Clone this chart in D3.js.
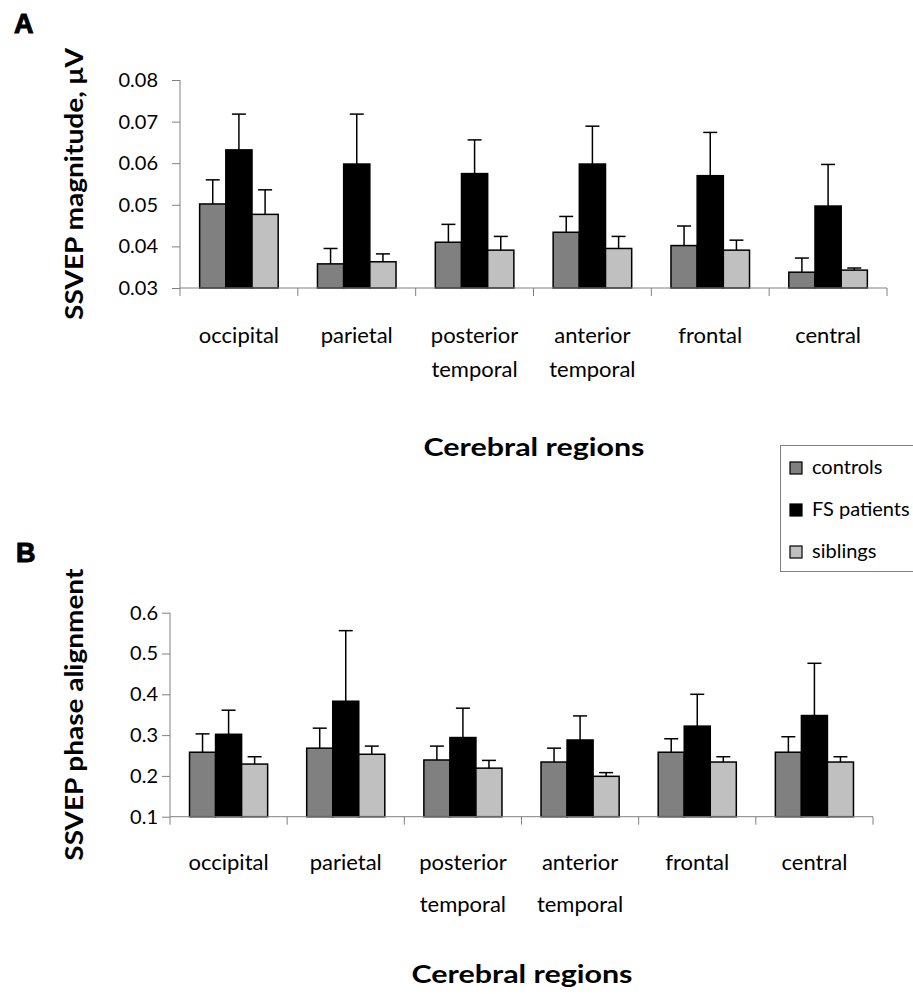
<!DOCTYPE html>
<html lang="en">
<head>
<meta charset="utf-8" />
<title>SSVEP magnitude and phase alignment by cerebral region</title>
<script src="https://d3js.org/d3.v7.min.js"></script>
<style>
  body { margin: 0; background: #fff; }
  svg text { font-family: "Gill Sans", "Gill Sans MT", Lato, sans-serif; fill: #000; }
</style>
</head>
<body>
<svg id="chart" width="913" height="994"></svg>
<script>
// categories and series
var regions = ["occipital", "parietal", "posterior temporal", "anterior temporal", "frontal", "central"];
var groups = ["controls", "FS patients", "siblings"];
var groupColors = ["#808080", "#000000", "#c0c0c0"];

// panel A: SSVEP magnitude (mean, upper error)
var magControls = [0.0502, 0.0358, 0.0410, 0.0434, 0.0402, 0.0338];
var magPatients = [0.0632, 0.0598, 0.0575, 0.0598, 0.0570, 0.0497];
var magSiblings = [0.0477, 0.0363, 0.0391, 0.0395, 0.0391, 0.0343];
var magControlsErr = [0.0058, 0.0037, 0.0043, 0.0038, 0.0047, 0.0034];
var magPatientsErr = [0.0086, 0.0120, 0.0081, 0.0091, 0.0104, 0.0100];
var magSiblingsErr = [0.0059, 0.0019, 0.0033, 0.0029, 0.0024, 0.0005];
var magTicks = [0.03, 0.04, 0.05, 0.06, 0.07, 0.08];

// panel B: SSVEP phase alignment
var phaseControls = [0.258, 0.268, 0.239, 0.234, 0.258, 0.258];
var phasePatients = [0.302, 0.383, 0.294, 0.288, 0.322, 0.348];
var phaseSiblings = [0.229, 0.253, 0.219, 0.199, 0.234, 0.234];
var phaseControlsErr = [0.045, 0.049, 0.034, 0.034, 0.033, 0.038];
var phasePatientsErr = [0.059, 0.173, 0.072, 0.059, 0.078, 0.128];
var phaseSiblingsErr = [0.018, 0.020, 0.019, 0.009, 0.013, 0.013];
var phaseTicks = [0.1, 0.2, 0.3, 0.4, 0.5, 0.6];

var svg = d3.select("#chart");

function drawPanel(opt) {
  var g = svg.append("g");

  var x0 = d3.scaleBand().domain(regions).range([opt.left, opt.right]);
  var x1 = d3.scaleBand().domain(groups).range([0, x0.bandwidth()])
    .paddingInner(0).paddingOuter(0.75);
  var y = d3.scaleLinear().domain(opt.domain).range([opt.bottom, opt.top]);

  // bars
  var rows = [];
  regions.forEach(function(r, i) {
    groups.forEach(function(s, j) {
      rows.push({ region: r, group: s, color: groupColors[j],
        value: opt.values[j][i], err: opt.errs[j][i] });
    });
  });

  g.selectAll("rect.bar")
    .data(rows)
    .enter().append("rect")
      .attr("class", "bar")
      .attr("x", function(d) { return x0(d.region) + x1(d.group); })
      .attr("y", function(d) { return y(d.value); })
      .attr("width", x1.bandwidth())
      .attr("height", function(d) { return y(opt.domain[0]) - y(d.value); })
      .attr("fill", function(d) { return d.color; })
      .attr("stroke", "#000")
      .attr("stroke-width", 1.5);

  // error bars (upper only)
  var cx = function(d) { return x0(d.region) + x1(d.group) + x1.bandwidth() / 2; };
  var eb = g.selectAll("g.err").data(rows).enter().append("g").attr("class", "err")
    .attr("stroke", "#000").attr("stroke-width", 1.5);
  eb.append("line")
    .attr("x1", cx).attr("x2", cx)
    .attr("y1", function(d) { return y(d.value); })
    .attr("y2", function(d) { return y(d.value + d.err); });
  eb.append("line")
    .attr("x1", function(d) { return cx(d) - 7; })
    .attr("x2", function(d) { return cx(d) + 7; })
    .attr("y1", function(d) { return y(d.value + d.err); })
    .attr("y2", function(d) { return y(d.value + d.err); });

  // y axis
  var yAxis = g.append("g")
    .attr("transform", "translate(" + opt.left + ",0)")
    .call(d3.axisLeft(y).tickValues(opt.ticks).tickSize(8).tickPadding(opt.tickPad)
      .tickFormat(d3.format(opt.fmt)));
  yAxis.select(".domain").attr("stroke", "#808080").attr("d", "M0," + opt.top + "V" + opt.bottom);
  yAxis.selectAll(".tick line").attr("stroke", "#808080");
  yAxis.selectAll(".tick text").attr("font-size", 20).attr("fill", "#000")
    .style("font-family", "\"Gill Sans\", Lato, sans-serif");

  // x axis with ticks at category boundaries
  g.append("line")
    .attr("x1", opt.left).attr("x2", opt.right)
    .attr("y1", opt.bottom).attr("y2", opt.bottom)
    .attr("stroke", "#808080");
  var bounds = regions.map(function(r) { return x0(r); }).concat([opt.right]);
  g.selectAll("line.xt").data(bounds).enter().append("line")
    .attr("class", "xt")
    .attr("x1", function(d) { return d; }).attr("x2", function(d) { return d; })
    .attr("y1", opt.bottom).attr("y2", opt.bottom + 8)
    .attr("stroke", "#808080");

  // category labels (two lines where needed)
  regions.forEach(function(r) {
    var words = r.split(" ");
    var t = g.append("text")
      .attr("x", x0(r) + x0.bandwidth() / 2)
      .attr("y", opt.bottom + opt.labelGap)
      .attr("text-anchor", "middle")
      .attr("font-size", 22);
    words.forEach(function(w, k) {
      t.append("tspan").attr("x", x0(r) + x0.bandwidth() / 2)
        .attr("dy", k === 0 ? 0 : opt.lineGap).text(w);
    });
  });

  // axis titles
  g.append("text")
    .attr("x", (opt.left + opt.right) / 2 - 110)
    .attr("y", opt.titleY)
    .attr("font-size", 24).attr("font-weight", "bold")
    .attr("textLength", 221).attr("lengthAdjust", "spacingAndGlyphs")
    .text("Cerebral regions");

  var yMid = (opt.top + opt.bottom) / 2;
  g.append("text")
    .attr("transform", "translate(83," + (yMid + opt.yTitleLen / 2) + ") rotate(-90)")
    .attr("font-size", 25).attr("font-weight", "bold")
    .attr("textLength", opt.yTitleLen).attr("lengthAdjust", "spacingAndGlyphs")
    .text(opt.yTitle);

  // panel letter
  g.append("text")
    .attr("x", opt.letterX).attr("y", opt.letterY)
    .style("font-family", "\"Liberation Sans\", Arial, sans-serif")
    .attr("font-size", 27).attr("font-weight", "bold")
    .attr("stroke", "#000").attr("stroke-width", 1)
    .text(opt.letter);
}

drawPanel({
  letter: "A", letterX: 14, letterY: 33,
  left: 180, right: 887, top: 80, bottom: 288,
  domain: [0.03, 0.08], ticks: magTicks, fmt: ".2f", tickPad: 14,
  values: [magControls, magPatients, magSiblings],
  errs: [magControlsErr, magPatientsErr, magSiblingsErr],
  labelGap: 55, lineGap: 34, titleY: 456,
  yTitle: "SSVEP magnitude, \u03bcV", yTitleLen: 272
});

drawPanel({
  letter: "B", letterX: 16, letterY: 562,
  left: 170, right: 873, top: 612.7, bottom: 816.7,
  domain: [0.1, 0.6], ticks: phaseTicks, fmt: ".1f", tickPad: 4,
  values: [phaseControls, phasePatients, phaseSiblings],
  errs: [phaseControlsErr, phasePatientsErr, phaseSiblingsErr],
  labelGap: 53, lineGap: 42, titleY: 983,
  yTitle: "SSVEP phase alignment", yTitleLen: 292
});

// legend
var legend = svg.append("g");
legend.append("rect")
  .attr("x", 780.5).attr("y", 445.5).attr("width", 140).attr("height", 126)
  .attr("fill", "#fff").attr("stroke", "#808080");
var legendY = d3.scalePoint().domain(groups).range([468, 552]);
groups.forEach(function(s, j) {
  legend.append("rect")
    .attr("x", 790).attr("y", legendY(s) - 6).attr("width", 12).attr("height", 12)
    .attr("fill", groupColors[j]).attr("stroke", "#000").attr("stroke-width", 1.2);
  legend.append("text")
    .attr("x", 812).attr("y", legendY(s) + 6)
    .attr("font-size", 20)
    .text(s);
});
</script>
</body>
</html>
